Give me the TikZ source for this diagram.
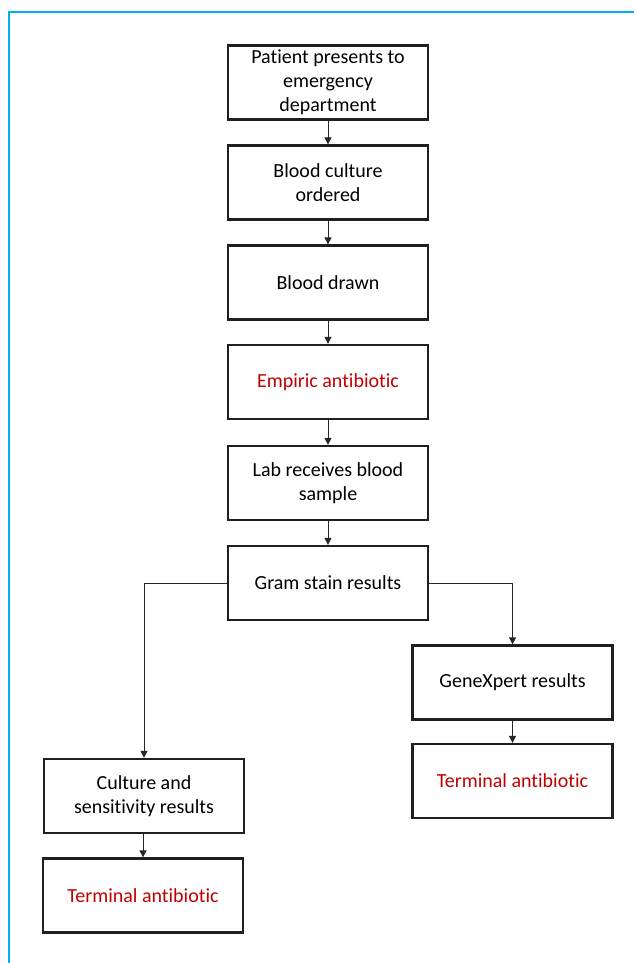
\documentclass[tikz,border=0pt]{standalone}
\usepackage{fontspec}
\setmainfont{Carlito}[Ligatures={NoCommon}]
\usetikzlibrary{arrows.meta}
\definecolor{frameblue}{RGB}{0,176,240}
\definecolor{redtxt}{RGB}{192,0,0}
\begin{document}
\begin{tikzpicture}[x=1pt,y=-1pt,
  box/.style={draw=black!88, line width=2.3pt, minimum width=200pt, minimum height=74pt,
    align=center, inner sep=0pt, font=\fontsize{20}{24}\selectfont},
  redbox/.style={box, text=redtxt},
  arr/.style={draw=black!85, line width=1pt, -{Triangle[length=7pt,width=7pt]}},
  frame/.style={draw=frameblue, line width=1.5pt}]
\useasboundingbox (0,0) rectangle (634,963);
\draw[frame] (9,963) -- (9,12) -- (634,12);
\node[box] (b1) at (328,82.5) {Patient presents to\\emergency\\department};
\node[box] (b2) at (328,182.5) {Blood culture\\ordered};
\node[box] (b3) at (328,282.5) {Blood drawn};
\node[redbox] (b4) at (328,382) {Empiric antibiotic};
\node[box] (b5) at (328,483) {Lab receives blood\\sample};
\node[box] (b6) at (328,583) {Gram stain results};
\node[box] (gx) at (512.5,682.5) {GeneXpert results};
\node[redbox] (tr) at (512.5,781) {Terminal antibiotic};
\node[box] (cs) at (144,796) {Culture and\\sensitivity results};
\node[redbox] (tl) at (143,895.5) {Terminal antibiotic};
\draw[arr] (b1) -- (b2);
\draw[arr] (b2) -- (b3);
\draw[arr] (b3) -- (b4);
\draw[arr] (b4) -- (b5);
\draw[arr] (b5) -- (b6);
\draw[arr] (b6.west) -| (cs.north);
\draw[arr] (b6.east) -| (gx.north);
\draw[arr] (gx) -- (tr);
\draw[arr] (cs.south -| tl) -- (tl);
\end{tikzpicture}
\end{document}
